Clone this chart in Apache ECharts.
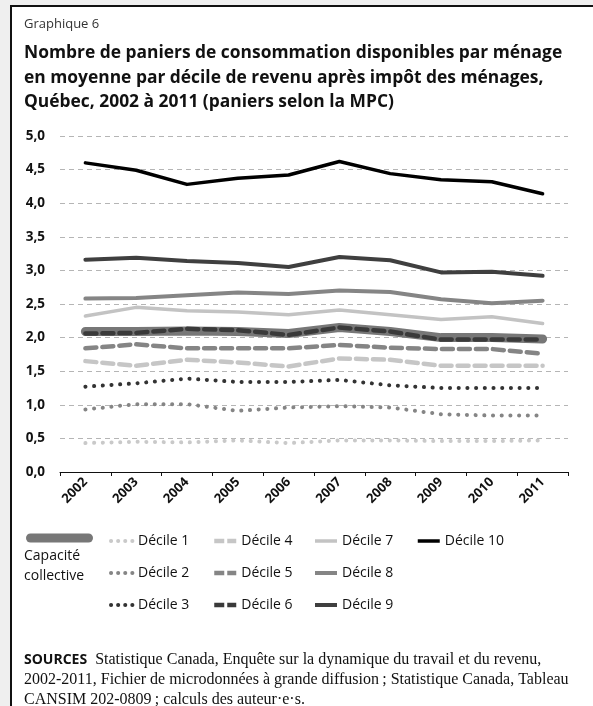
<!DOCTYPE html>
<html><head><meta charset="utf-8">
<script src="https://cdn.jsdelivr.net/npm/echarts@6/dist/echarts.min.js"></script>
<style>
html,body{margin:0;padding:0;background:#efefef;overflow:hidden}
#frame{position:absolute;left:10px;top:5px;width:600px;height:720px;background:#fff;border-left:2px solid #111;border-top:2px solid #111}
#c{position:absolute;left:0;top:0;width:593px;height:706px}
</style></head>
<body><div id="frame"></div><div id="c"></div>
<script>
var years = ['2002','2003','2004','2005','2006','2007','2008','2009','2010','2011'];
var capacite = [2.09,2.09,2.10,2.09,2.06,2.15,2.09,2.00,2.00,1.98];
var d1  = [0.43,0.45,0.44,0.47,0.43,0.47,0.47,0.46,0.46,0.47];
var d2  = [0.93,1.01,1.01,0.91,0.96,0.98,0.96,0.86,0.84,0.84];
var d3  = [1.27,1.32,1.39,1.34,1.34,1.37,1.29,1.25,1.25,1.25];
var d4  = [1.65,1.58,1.67,1.63,1.57,1.69,1.67,1.58,1.58,1.58];
var d5  = [1.84,1.90,1.84,1.84,1.84,1.89,1.85,1.83,1.83,1.76];
var d6  = [2.06,2.07,2.13,2.11,2.04,2.15,2.09,1.97,1.97,1.97];
var d7  = [2.32,2.45,2.40,2.38,2.34,2.41,2.34,2.27,2.31,2.21];
var d8  = [2.58,2.59,2.63,2.67,2.65,2.70,2.68,2.57,2.51,2.55];
var d9  = [3.16,3.19,3.14,3.11,3.05,3.20,3.15,2.97,2.98,2.92];
var d10 = [4.60,4.49,4.28,4.37,4.42,4.62,4.44,4.35,4.32,4.14];
var yTicks = [0,0.5,1,1.5,2,2.5,3,3.5,4,4.5,5];

var DOT = [0.1, 8.6], DASH = [11, 6];
function s(name, data, color, width, type){
  return {name:name, type:'line', data:data, symbol:'none', showSymbol:false, smooth:false, silent:true,
    lineStyle:{color:color, width:width, type:type||'solid', cap:'round', join:'round'},
    itemStyle:{color:color}};
}
var series = [
  s('Capacité collective', capacite, '#777777', 9),
  s('Décile 1', d1, '#c9c9c9', 4, DOT),
  s('Décile 2', d2, '#858585', 4, DOT),
  s('Décile 3', d3, '#333333', 4, DOT),
  s('Décile 4', d4, '#c6c6c6', 4.5, DASH),
  s('Décile 5', d5, '#858585', 4.5, DASH),
  s('Décile 6', d6, '#3a3a3a', 4.5, DASH),
  s('Décile 7', d7, '#c3c3c3', 3.5),
  s('Décile 8', d8, '#858585', 4),
  s('Décile 9', d9, '#3f3f3f', 4),
  s('Décile 10', d10, '#000000', 3.5)
];
function leg(names, left, dash, cap){
  return {data:names, orient:'vertical', left:left, top:529, itemGap:18, itemWidth:22, itemHeight:14,
    selectedMode:false, lineStyle:{width:'inherit', type:dash||'inherit', cap:cap||'butt'},
    itemStyle:{opacity:0},
    textStyle:{fontFamily:'Open Sans', fontSize:14, color:'#111'}};
}
var chart = echarts.init(document.getElementById('c'), null, {renderer:'canvas'});
chart.setOption({
  animation:false,
  backgroundColor:'transparent',
  grid:{left:60, right:25, top:136, bottom:234},
  xAxis:{type:'category', data:years, boundaryGap:true,
    axisLine:{lineStyle:{color:'#111', width:1}},
    axisTick:{show:true, length:4, lineStyle:{color:'#111'}},
    axisLabel:{rotate:45, fontFamily:'Open Sans', fontWeight:'bold', fontSize:13, color:'#111', margin:8}},
  yAxis:{type:'value', min:0, max:5, interval:0.5,
    axisLine:{show:false}, axisTick:{show:false},
    splitLine:{lineStyle:{color:'#b5b5b5', type:[5,4], width:1}},
    axisLabel:{fontFamily:'Open Sans', fontWeight:'bold', fontSize:13.5, color:'#111', margin:15,
      formatter:function(v){ return v.toFixed(1).replace('.', ','); }}},
  legend:[
    {data:['Capacité collective'], left:21, top:526, itemWidth:58, itemHeight:14, selectedMode:false,
      lineStyle:{width:'inherit', cap:'round'}, itemStyle:{opacity:0},
      formatter:function(){return '';}, textStyle:{fontSize:1}},
    leg(['Décile 1','Décile 2','Décile 3'], 104, [0.1, 7], 'round'),
    leg(['Décile 4','Décile 5','Décile 6'], 207, [10, 3]),
    leg(['Décile 7','Décile 8','Décile 9'], 308),
    leg(['Décile 10'], 411)
  ],
  graphic:[
    {type:'text', left:24, top:18, style:{text:'Graphique 6', font:'13px "Open Sans"', fill:'#333'}},
    {type:'text', left:24, top:41, style:{text:'Nombre de paniers de consommation disponibles par ménage\nen moyenne par décile de revenu après impôt des ménages,\nQuébec, 2002 à 2011 (paniers selon la MPC)',
      font:'bold 17.4px "Open Sans"', fill:'#111', lineHeight:24.5}},
    {type:'text', left:24, top:546, style:{text:'Capacité\ncollective', font:'14px "Open Sans"', fill:'#111', lineHeight:20}},
    {type:'text', left:24, top:650, style:{
      text:'{b|SOURCES}  Statistique Canada, Enquête sur la dynamique du travail et du revenu,\n2002-2011, Fichier de microdonnées à grande diffusion\u2009; Statistique Canada, Tableau\nCANSIM 202-0809\u2009; calculs des auteur·e·s.',
      font:'16px "Liberation Serif"', fill:'#111', lineHeight:20,
      rich:{b:{font:'bold 14px "Open Sans"', fill:'#111'}}}}
  ],
  series:series
});
</script></body></html>
